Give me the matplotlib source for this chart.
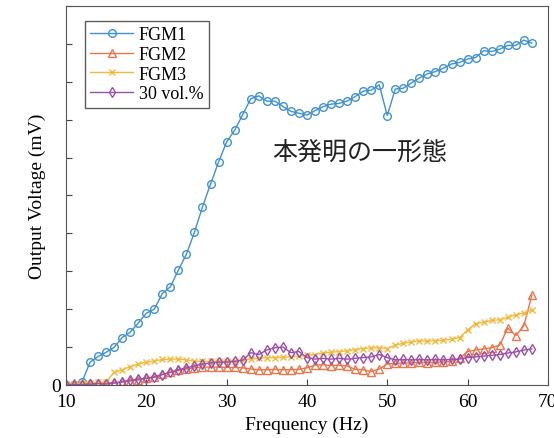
import numpy as np
import matplotlib
matplotlib.use("Agg")
import matplotlib.pyplot as plt

# frequency axis, one point per Hz
freq = list(range(10, 69))

fgm1 = [0.0, 0.0, 0.07, 0.60, 0.75, 0.86, 0.99, 1.25, 1.39, 1.63,
        1.89, 2.00, 2.41, 2.59, 3.03, 3.45, 4.03, 4.70, 5.30, 5.88,
        6.41, 6.72, 7.13, 7.55, 7.63, 7.49, 7.49, 7.35, 7.22, 7.17,
        7.12, 7.24, 7.34, 7.41, 7.43, 7.49, 7.61, 7.75, 7.78, 7.92,
        7.11, 7.81, 7.83, 7.97, 8.10, 8.21, 8.27, 8.36, 8.47, 8.51,
        8.60, 8.64, 8.82, 8.80, 8.86, 8.96, 8.96, 9.10, 9.02]

fgm2 = [0.02, 0.04, 0.03, 0.05, 0.04, 0.06, 0.05, 0.08, 0.10, 0.13,
        0.17, 0.22, 0.28, 0.33, 0.38, 0.42, 0.45, 0.47, 0.47, 0.47,
        0.46, 0.46, 0.45, 0.42, 0.40, 0.40, 0.41, 0.40, 0.40, 0.41,
        0.45, 0.52, 0.53, 0.51, 0.52, 0.50, 0.41, 0.40, 0.35, 0.42,
        0.55, 0.57, 0.58, 0.58, 0.60, 0.59, 0.60, 0.60, 0.62, 0.70,
        0.88, 0.92, 0.95, 0.98, 1.05, 1.50, 1.30, 1.56, 2.37]

fgm3 = [0.02, 0.03, 0.05, 0.06, 0.07, 0.08, 0.33, 0.40, 0.48, 0.55,
        0.60, 0.63, 0.67, 0.68, 0.68, 0.66, 0.63, 0.62, 0.62, 0.63,
        0.63, 0.64, 0.66, 0.68, 0.70, 0.72, 0.72, 0.73, 0.74, 0.76,
        0.78, 0.80, 0.84, 0.86, 0.88, 0.90, 0.93, 0.96, 0.98, 0.98,
        0.96, 1.05, 1.10, 1.13, 1.17, 1.15, 1.17, 1.18, 1.20, 1.25,
        1.45, 1.62, 1.65, 1.70, 1.72, 1.78, 1.85, 1.90, 1.98]

vol30 = [0.0, 0.01, 0.0, 0.02, 0.03, 0.02, 0.05, 0.08, 0.12, 0.15,
         0.18, 0.20, 0.27, 0.33, 0.40, 0.45, 0.50, 0.55, 0.58, 0.60,
         0.60, 0.62, 0.65, 0.85, 0.80, 0.92, 0.98, 1.00, 0.85, 0.88,
         0.72, 0.68, 0.70, 0.68, 0.70, 0.68, 0.70, 0.72, 0.74, 0.80,
         0.72, 0.66, 0.67, 0.66, 0.67, 0.66, 0.67, 0.66, 0.67, 0.68,
         0.72, 0.74, 0.76, 0.78, 0.80, 0.84, 0.87, 0.92, 0.95]

series = [
    ("FGM1", fgm1, "#3f91d2", "o"),
    ("FGM2", fgm2, "#e8764a", "^"),
    ("FGM3", fgm3, "#f2b93b", "x"),
    ("30 vol.%", vol30, "#9a4fab", "d"),
]

plt.rcParams['font.family'] = ['Liberation Serif', 'DejaVu Serif']

fig = plt.figure(figsize=(5.54, 4.39), dpi=100)
ax = fig.add_axes([0.119, 0.121, 0.870, 0.863])

for name, vals, col, mk in series:
    ax.plot(freq, vals, color=col, marker=mk, markersize=5.5 if mk != "x" else 4,
            markerfacecolor='none', markeredgecolor=col, linewidth=1.0,
            markeredgewidth=1.0, label=name)

ax.set_xlim(10, 70)
ax.set_ylim(0, 10)
ax.set_xticks(range(10, 71, 10))
ax.set_yticks(range(0, 11))
ax.set_yticklabels(["0"] + [""] * 10)
ax.tick_params(direction='in', length=4, labelsize=14, color='#444444')
ax.tick_params(axis='x', pad=6)
for sp in ax.spines.values():
    sp.set_color('#555555')

ax.set_xlabel("Frequency (Hz)", fontsize=14, labelpad=4)
ax.set_ylabel("Output Voltage (mV)", fontsize=14)

leg = ax.legend(loc='upper left', fontsize=13, frameon=True, fancybox=False,
                edgecolor='#333333', handlelength=2.4, borderpad=0.3,
                labelspacing=0.15, handletextpad=0.3, bbox_to_anchor=(0.02, 0.985))
leg.get_frame().set_linewidth(1.0)

ax.text(46.6, 6.15, "本発明の一形態", fontsize=18, ha='center', va='center',
        family=['Noto Sans CJK JP', 'DejaVu Sans'], color='#222222')

fig.savefig("out.png", dpi=100)
